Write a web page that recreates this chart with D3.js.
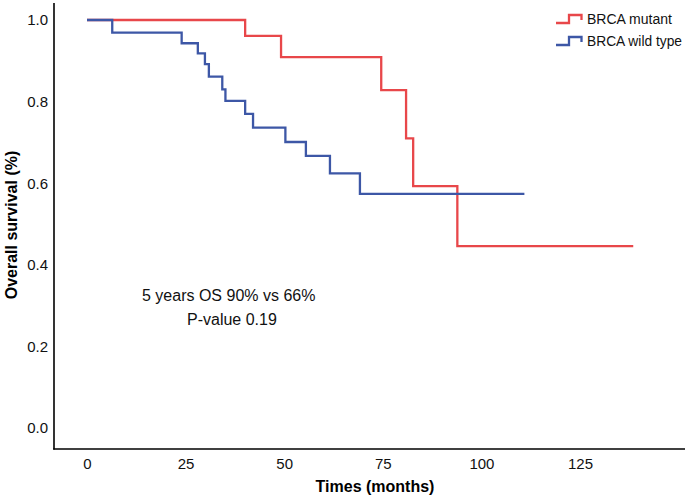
<!DOCTYPE html>
<html>
<head>
<meta charset="utf-8">
<script src="https://cdn.jsdelivr.net/npm/d3@7"></script>
<style>
  html, body { margin: 0; padding: 0; background: #fff; }
  svg { display: block; font-family: "Liberation Sans", Arial, sans-serif; }
</style>
</head>
<body>
<svg id="chart" width="685" height="496"></svg>
<script>
// Data (Kaplan-Meier step points: time in months, survival proportion)
const mutantTimes  = [0, 40.1, 49.2, 74.6, 80.9, 82.7, 93.9, 138.5];
const mutantSurv   = [1.0, 0.961, 0.909, 0.828, 0.710, 0.593, 0.446, 0.446];
const wildTimes    = [0, 6.4, 24.0, 28.1, 29.9, 30.9, 34.3, 35.1, 40.1, 42.1, 50.3, 55.5, 61.6, 69.2, 110.9];
const wildSurv     = [1.0, 0.969, 0.943, 0.918, 0.892, 0.861, 0.830, 0.802, 0.770, 0.736, 0.701, 0.667, 0.624, 0.574, 0.574];
const seriesNames  = ["BRCA mutant", "BRCA wild type"];
const xTicks = [0, 25, 50, 75, 100, 125];
const yTicks = [0, 0.2, 0.4, 0.6, 0.8, 1.0];
const annotation = ["5 years OS 90% vs 66%", "P-value 0.19"];

const colors = ["#E8474A", "#3D57A6"];

const svg = d3.select("#chart");
const x = d3.scaleLinear().domain([0, 125]).range([87, 580]);
const y = d3.scaleLinear().domain([0, 1]).range([428, 20]);

// Axis lines (L-shaped frame)
svg.append("line").attr("x1", 54).attr("x2", 54).attr("y1", 3).attr("y2", 449.5)
  .attr("stroke", "#000").attr("stroke-width", 1.6);
svg.append("line").attr("x1", 53.2).attr("x2", 685).attr("y1", 449).attr("y2", 449)
  .attr("stroke", "#000").attr("stroke-width", 1.6);

// Y axis ticks labels
const yAxis = d3.axisLeft(y).tickValues(yTicks).tickSize(0).tickPadding(0)
  .tickFormat(d3.format(".1f"));
const gy = svg.append("g").attr("transform", "translate(48,0)").call(yAxis);
gy.select(".domain").remove();
gy.selectAll("text").attr("font-size", 15).attr("fill", "#111")
  .attr("font-family", "Liberation Sans, Arial, sans-serif");

// X axis tick labels
const xAxis = d3.axisBottom(x).tickValues(xTicks).tickSize(0).tickPadding(0);
const gx = svg.append("g").attr("transform", "translate(0,458)").call(xAxis);
gx.select(".domain").remove();
gx.selectAll("text").attr("font-size", 15).attr("fill", "#111")
  .attr("font-family", "Liberation Sans, Arial, sans-serif");

// Axis titles
svg.append("text").attr("x", 375).attr("y", 492).attr("text-anchor", "middle")
  .attr("font-size", 16).attr("font-weight", "bold").text("Times (months)");
svg.append("text").attr("transform", "translate(17,225) rotate(-90)")
  .attr("text-anchor", "middle").attr("font-size", 16).attr("font-weight", "bold")
  .text("Overall survival (%)");

// Curves
const line = d3.line().x(d => x(d[0])).y(d => y(d[1])).curve(d3.curveStepAfter);
const series = [
  d3.zip(mutantTimes, mutantSurv),
  d3.zip(wildTimes, wildSurv)
];
series.forEach((s, i) => {
  svg.append("path").datum(s).attr("d", line).attr("fill", "none")
    .attr("stroke", colors[i]).attr("stroke-width", 2.3);
});

// Legend
const legY = [19, 41];
const legW = [85, 95];
seriesNames.forEach((name, i) => {
  const yy = legY[i];
  svg.append("path")
    .attr("d", `M556,${yy + 4}H569V${yy - 4}H581.5V${yy + 1}`)
    .attr("fill", "none").attr("stroke", colors[i]).attr("stroke-width", 2.3);
  svg.append("text").attr("x", 587).attr("y", yy + 5).attr("font-size", 14)
    .attr("textLength", legW[i]).attr("lengthAdjust", "spacingAndGlyphs")
    .attr("fill", "#111").text(name);
});

// Annotation
svg.append("text").attr("x", 142).attr("y", 301).attr("font-size", 16)
  .attr("fill", "#111").text(annotation[0]);
svg.append("text").attr("x", 187).attr("y", 325).attr("font-size", 16)
  .attr("fill", "#111").text(annotation[1]);
</script>
</body>
</html>
